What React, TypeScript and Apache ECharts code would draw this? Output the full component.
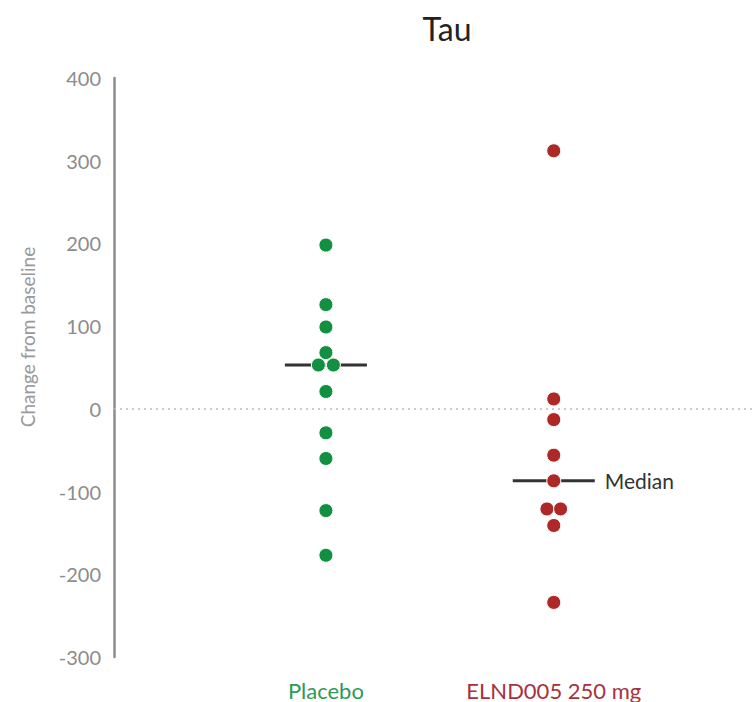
import React, { useEffect, useRef } from "react";
import * as echarts from "echarts";

const categories = ["Placebo", "ELND005 250 mg"];
const categoryX = [1, 2];
const placeboValues = [198, 126, 99, 68, 53, 53, 21, -29, -60, -123, -177];
const placeboOffsets = [0, 0, 0, 0, -0.033, 0.033, 0, 0, 0, 0, 0];
const elndValues = [312, 12, -13, -56, -87, -121, -121, -141, -234];
const elndOffsets = [0, 0, 0, 0, 0, -0.03, 0.03, 0, 0];
const medians = [53, -87];
const yTicks = [-300, -200, -100, 0, 100, 200, 300, 400];

const GREEN = "#129042";
const RED = "#ae2828";
const FONT = "Lato, 'Open Sans', sans-serif";

export default function App() {
  const ref = useRef<HTMLDivElement>(null);
  useEffect(() => {
    document.body.style.margin = "0";
    if (!ref.current) return;
    const chart = echarts.init(ref.current, null, { renderer: "svg" });
    const placeboData = placeboValues.map((v, i) => [categoryX[0] + placeboOffsets[i], v]);
    const elndData = elndValues.map((v, i) => [categoryX[1] + elndOffsets[i], v]);
    const half = 0.18;
    chart.setOption({
      animation: false,
      textStyle: { fontFamily: FONT },
      title: {
        text: "Tau",
        left: 442,
        top: 7,
        textAlign: "center",
        textStyle: { fontFamily: FONT, fontSize: 32, fontWeight: "normal", color: "#222" },
      },
      grid: { left: 114, right: 0, top: 78, bottom: 45 },
      xAxis: {
        type: "value",
        min: 0.07,
        max: 2.87,
        axisLine: { show: false },
        axisTick: { show: false },
        splitLine: { show: false },
        axisLabel: {
          customValues: categoryX,
          margin: 22,
          formatter: (v: number) => (v === 1 ? "{a|" + categories[0] + "}" : v === 2 ? "{b|" + categories[1] + "}" : ""),
          rich: {
            a: { color: "#2e9a55", fontSize: 22, fontFamily: FONT },
            b: { color: "#a8323a", fontSize: 22, fontFamily: FONT },
          },
        },
      },
      yAxis: {
        type: "value",
        min: yTicks[0],
        max: yTicks[yTicks.length - 1],
        interval: 100,
        axisLine: { show: true, lineStyle: { color: "#8c8c8c", width: 2.5 } },
        axisTick: { show: false },
        splitLine: { show: false },
        axisLabel: { color: "#8c8c8c", fontSize: 20, margin: 13, fontFamily: FONT },
      },
      graphic: [
        {
          type: "text",
          x: 27,
          y: 337,
          rotation: Math.PI / 2,
          style: {
            text: "Change from baseline",
            fill: "#999",
            fontSize: 19,
            fontFamily: FONT,
            textAlign: "center",
            textVerticalAlign: "middle",
          },
        },
      ],
      series: [
        {
          type: "line",
          data: [
            [categoryX[0] - half, medians[0]],
            [categoryX[0] + half, medians[0]],
          ],
          symbol: "none",
          lineStyle: { color: "#333", width: 3 },
          z: 1,
          markLine: {
            silent: true,
            symbol: "none",
            label: { show: false },
            lineStyle: { color: "#bbb", type: [2, 4], width: 1.5 },
            data: [{ yAxis: 0 }],
          },
        },
        {
          type: "line",
          data: [
            [categoryX[1] - half, medians[1]],
            [categoryX[1] + half, medians[1]],
          ],
          symbol: "none",
          lineStyle: { color: "#333", width: 3 },
          z: 1,
          endLabel: {
            show: true,
            formatter: "Median",
            color: "#333",
            fontSize: 21,
            fontFamily: FONT,
            distance: 10,
          },
        },
        {
          type: "scatter",
          data: placeboData,
          symbolSize: 14,
          itemStyle: { color: GREEN, borderColor: "#fff", borderWidth: 1, opacity: 1 },
          z: 3,
        },
        {
          type: "scatter",
          data: elndData,
          symbolSize: 14,
          itemStyle: { color: RED, borderColor: "#fff", borderWidth: 1, opacity: 1 },
          z: 3,
        },
      ],
    });
    return () => chart.dispose();
  }, []);
  return <div ref={ref} style={{ width: 752, height: 702 }} />;
}
